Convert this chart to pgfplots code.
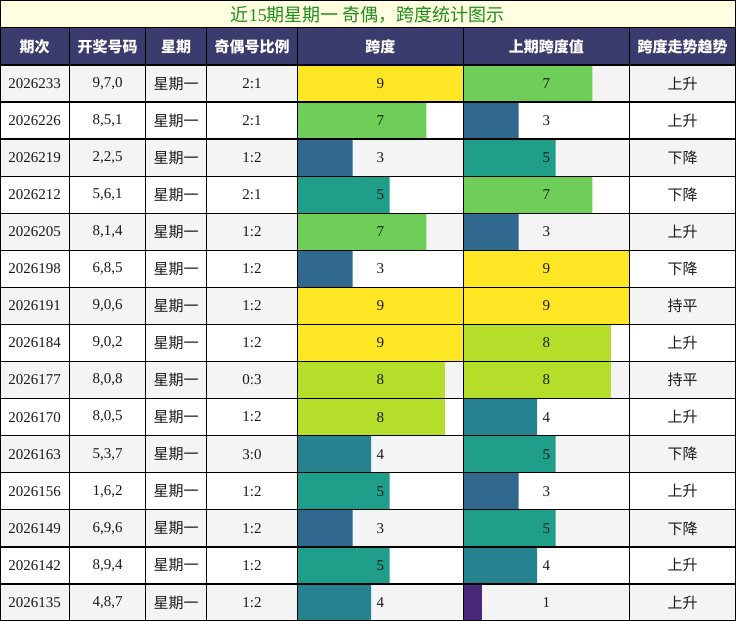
\documentclass[border=0pt]{standalone}
\usepackage{pgfplots}
\pgfplotsset{compat=1.18}
\usepackage{fontspec}
\setmainfont{Liberation Serif}
\newfontfamily\cjk{Noto Sans CJK SC}
\definecolor{titlebg}{HTML}{FFFFE0}
\definecolor{titlefg}{HTML}{1E8C1E}
\definecolor{headbg}{HTML}{3C3B6E}
\definecolor{rowgray}{HTML}{F4F4F4}
\definecolor{txt}{HTML}{1A1A1A}
\definecolor{v9}{HTML}{FDE725}
\definecolor{v8}{HTML}{B5DE2B}
\definecolor{v7}{HTML}{6ECE58}
\definecolor{v5}{HTML}{1F9E89}
\definecolor{v4}{HTML}{26828E}
\definecolor{v3}{HTML}{31688E}
\definecolor{v1}{HTML}{482878}
\newcommand\rowtxt[7]{%
  \pgfmathsetmacro\yy{65+(#1-0.5)*37.067}%
  \node[txt] at (34.6,\yy) {#2};
  \node[txt] at (107.5,\yy) {#3};
  \node[txt] at (176.2,\yy) {\cjk 星期一};
  \node[txt] at (252,\yy) {#4};
  \node[txt] at (380.3,\yy) {#5};
  \node[txt] at (546.3,\yy) {#6};
  \node[txt] at (682.5,\yy) {\cjk #7};
}
\pgfplotsset{barcol/.style={at={(#1bp,-65bp)}, anchor=north west, scale only axis, width=166bp, height=556.0bp,
  xmin=0, xmax=9, ymin=0.5, ymax=15.5, y dir=reverse, hide axis, clip=false},
  bb/.style={xbar, bar shift=0pt, bar width=1, draw=none, fill=#1}}
\begin{document}
\begin{tikzpicture}[font=\fontsize{15bp}{18bp}\selectfont]
\path[use as bounding box] (0bp,0bp) rectangle (736bp,-621bp);
\begin{scope}[x=1bp,y=-1bp]
\fill[titlebg] (0,0) rectangle (736,27.7);
\fill[headbg] (0,27.7) rectangle (736,65);
\foreach \i in {1,3,...,15} {\fill[rowgray] (0,{65+(\i-1)*37.067}) rectangle (736,{65+\i*37.067});}
\end{scope}
% span bars
\begin{axis}[barcol=297.3]
\addplot[bb=v9] coordinates {(9,1) (9,7) (9,8)};
\addplot[bb=v8] coordinates {(8,9) (8,10)};
\addplot[bb=v7] coordinates {(7,2) (7,5)};
\addplot[bb=v5] coordinates {(5,4) (5,12) (5,14)};
\addplot[bb=v4] coordinates {(4,11) (4,15)};
\addplot[bb=v3] coordinates {(3,3) (3,6) (3,13)};
\end{axis}
% previous span bars
\begin{axis}[barcol=463.3]
\addplot[bb=v9] coordinates {(9,6) (9,7)};
\addplot[bb=v8] coordinates {(8,8) (8,9)};
\addplot[bb=v7] coordinates {(7,1) (7,4)};
\addplot[bb=v5] coordinates {(5,3) (5,11) (5,13)};
\addplot[bb=v4] coordinates {(4,10) (4,14)};
\addplot[bb=v3] coordinates {(3,2) (3,5) (3,12)};
\addplot[bb=v1] coordinates {(1,15)};
\end{axis}
\begin{scope}[x=1bp,y=-1bp]
% grid
\begin{scope}[line width=1.3bp, black]
\draw (0.65,0.65) rectangle (735.35,620.35);
\draw (0,27.7) -- (736,27.7);
\draw (0,65) -- (736,65);
\foreach \i in {1,...,14} {\draw (0,{65+\i*37.067}) -- (736,{65+\i*37.067});}
\foreach \x in {69.3,145.7,206.7,297.3,463.3,629.3} {\draw (\x,27.7) -- (\x,621);}
\end{scope}
% title
\node[titlefg, font=\fontsize{18bp}{21bp}\selectfont] at (368,14.5) {{\cjk 近}15{\cjk 期星期一 奇偶，跨度统计图示}};
% header
\begin{scope}[white, font=\fontsize{15bp}{18bp}\selectfont\cjk\bfseries]
\node at (34.6,46.5) {期次};
\node at (107.5,46.5) {开奖号码};
\node at (176.2,46.5) {星期};
\node at (252,46.5) {奇偶号比例};
\node at (380.3,46.5) {跨度};
\node at (546.3,46.5) {上期跨度值};
\node at (682.5,46.5) {跨度走势趋势};
\end{scope}
\rowtxt{1}{2026233}{9,7,0}{2:1}{9}{7}{上升}
\rowtxt{2}{2026226}{8,5,1}{2:1}{7}{3}{上升}
\rowtxt{3}{2026219}{2,2,5}{1:2}{3}{5}{下降}
\rowtxt{4}{2026212}{5,6,1}{2:1}{5}{7}{下降}
\rowtxt{5}{2026205}{8,1,4}{1:2}{7}{3}{上升}
\rowtxt{6}{2026198}{6,8,5}{1:2}{3}{9}{下降}
\rowtxt{7}{2026191}{9,0,6}{1:2}{9}{9}{持平}
\rowtxt{8}{2026184}{9,0,2}{1:2}{9}{8}{上升}
\rowtxt{9}{2026177}{8,0,8}{0:3}{8}{8}{持平}
\rowtxt{10}{2026170}{8,0,5}{1:2}{8}{4}{上升}
\rowtxt{11}{2026163}{5,3,7}{3:0}{4}{5}{下降}
\rowtxt{12}{2026156}{1,6,2}{1:2}{5}{3}{上升}
\rowtxt{13}{2026149}{6,9,6}{1:2}{3}{5}{下降}
\rowtxt{14}{2026142}{8,9,4}{1:2}{5}{4}{上升}
\rowtxt{15}{2026135}{4,8,7}{1:2}{4}{1}{上升}
\end{scope}
\end{tikzpicture}
\end{document}
